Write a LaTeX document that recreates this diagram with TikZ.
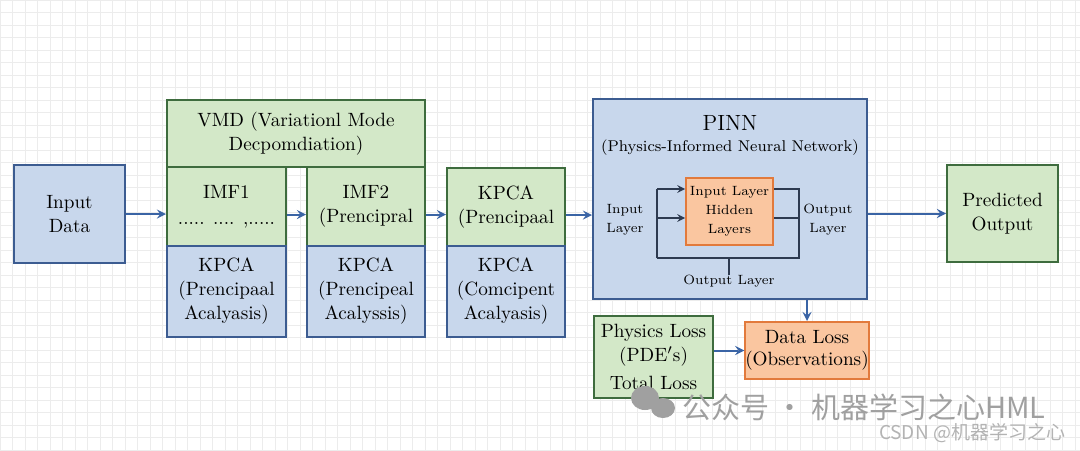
\documentclass[tikz,border=0pt]{standalone}
\usepackage{fontspec}
\usepackage{tikz}
\usetikzlibrary{arrows}
\newfontfamily\cjk{Noto Sans CJK SC}
\definecolor{gridc}{RGB}{236,236,236}
\definecolor{green1}{RGB}{211,232,200}
\definecolor{green2}{RGB}{62,108,62}
\definecolor{blue1}{RGB}{200,215,236}
\definecolor{blue2}{RGB}{60,92,145}
\definecolor{orange1}{RGB}{250,198,160}
\definecolor{orange2}{RGB}{226,122,60}
\definecolor{flowc}{RGB}{58,100,165}
\definecolor{linec}{RGB}{45,58,80}
\definecolor{markc}{RGB}{160,160,160}

\begin{document}
\begin{tikzpicture}[x=0.5pt,y=-0.5pt,
  gbox/.style={draw=green2,fill=green1,line width=1pt,align=center,inner sep=0pt,font=\fontsize{9.6}{12}\selectfont},
  bbox/.style={draw=blue2,fill=blue1,line width=1pt,align=center,inner sep=0pt,font=\fontsize{9.6}{12}\selectfont},
  obox/.style={draw=orange2,fill=orange1,line width=1pt,align=center,inner sep=0pt},
  flow/.style={draw=flowc,line width=1pt,-stealth},
  thin/.style={draw=linec,line width=0.7pt},
  small/.style={align=center,inner sep=0pt,font=\fontsize{6.7}{9.5}\selectfont}]

\useasboundingbox (0,0) rectangle (1080,450);
\fill[white] (0,0) rectangle (1080,450);
\draw[gridc,step=6.25pt] (0,0) grid (1080,450);

% left part
\node[bbox,minimum width=55.5pt,minimum height=49pt] (inp) at (69.5,214) {Input\\Data};
\node[gbox,minimum width=129pt,minimum height=33.5pt] (vmd) at (296,133.5) {VMD (Variationl Mode\\Decpomdiation)};
\node[gbox,minimum width=59.5pt,minimum height=39.5pt] (imfa) at (226.5,206.5) {IMF1\\[1pt]..... .... ,.....};
\node[gbox,minimum width=59pt,minimum height=39.5pt] (imfb) at (366,206.5) {IMF2\\(Prencipral};
\node[bbox,minimum width=59.5pt,minimum height=45.5pt] (kpa) at (226.5,291.5) {KPCA\\(Prencipaal\\Acalyasis)};
\node[bbox,minimum width=59pt,minimum height=45.5pt] (kpb) at (366,291.5) {KPCA\\(Prencipeal\\Acalyssis)};
\node[gbox,minimum width=59pt,minimum height=39pt] (kpc) at (506,207) {KPCA\\(Prencipaal};
\node[bbox,minimum width=59pt,minimum height=45.5pt] (kpd) at (506,291.5) {KPCA\\(Comcipent\\Acalyasis)};

% PINN
\node[bbox,minimum width=137pt,minimum height=100pt] (pinn) at (730,199) {};
\node[font=\fontsize{11}{13}\selectfont] (ptitle) at (730,123) {PINN};
\node[font=\fontsize{7.8}{10}\selectfont] (psub) at (730,148) {(Physics-Informed Neural Network)};
\node[obox,small,minimum width=43.5pt,minimum height=33.5pt] (hid) at (729.5,211.5) {Input Layer\\Hidden\\Layers};
\node[small] (inl) at (625,220) {Input\\Layer};
\node[small] (outl) at (828,220) {Output\\Layer};
\node[small] (outb) at (729,281) {Output Layer};

\coordinate (lt) at (657,189);
\coordinate (lm) at (657,218);
\coordinate (lb) at (657,258);
\coordinate (rt) at (799,189);
\coordinate (rm) at (799,218);
\coordinate (rb) at (799,258);
\coordinate (tk) at (729,258);
\draw[thin] (lb) -- (lt);
\draw[thin,-stealth] (lt) -- (lt -| hid.west);
\draw[thin,-stealth] (lm) -- (lm -| hid.west);
\draw[thin] (rt -| hid.east) -- (rt) -- (rb) -- (lb);
\draw[thin] (rm -| hid.east) -- (rm);
\draw[thin] (tk) -- (outb.north);

% right part
\node[gbox,minimum width=55.5pt,minimum height=48.5pt] (out) at (1002.5,213.5) {Predicted\\Output};
\node[gbox,minimum width=59.5pt,minimum height=41pt] (phys) at (653.5,357) {Physics Loss\\(PDE$'$s)\\[2pt]Total Loss};
\node[obox,font=\fontsize{9.6}{11}\selectfont,minimum width=60pt,minimum height=28.5pt] (dloss) at (807,350.5) {Data Loss\\(Observations)};

% connectors
\coordinate (ya) at ([yshift=-4pt]imfa.east);
\coordinate (yb) at ([yshift=-4pt]imfb.east);
\coordinate (yc) at ([yshift=-4pt]kpc.east);
\draw[flow] (inp) -- (inp -| imfa.west);
\draw[flow] (ya) -- (ya -| imfb.west);
\draw[flow] (yb) -- (yb -| kpc.west);
\draw[flow] (yc) -- (yc -| pinn.west);
\draw[flow] (pinn.east |- out) -- (out.west);
\draw[flow] (pinn.south -| dloss) -- (dloss.north);
\draw[flow] (phys.east |- dloss) -- (dloss.west);

% watermark
\fill[markc] (645,398) ellipse (7pt and 6pt);
\fill[markc] (663,408) ellipse (6pt and 5pt);
\node[markc,font=\cjk\fontsize{14.5}{16}\selectfont] (wm) at (864,407) {公众号 · 机器学习之心HML};
\node[markc!80,font=\cjk\fontsize{9.5}{11}\selectfont] (csdn) at (972,433) {CSDN @机器学习之心};
\end{tikzpicture}
\end{document}
